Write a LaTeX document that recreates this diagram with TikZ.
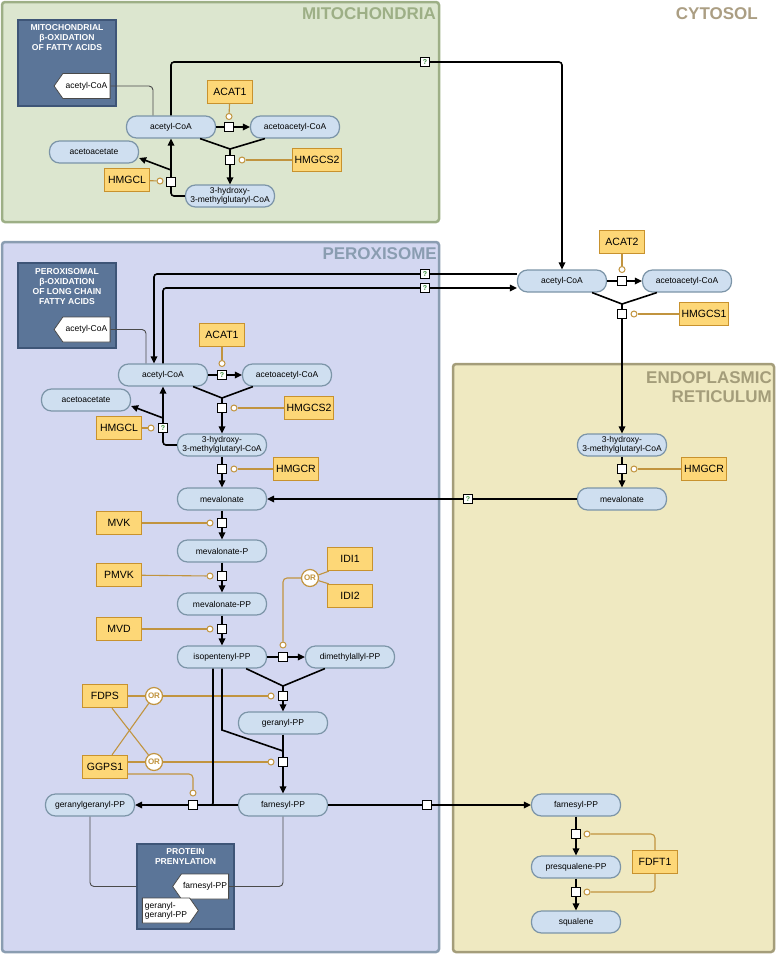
\documentclass[tikz,border=0pt]{standalone}
\usepackage{fontspec}
\setmainfont{Liberation Sans}
\usepackage{tikz}
\usetikzlibrary{arrows.meta,positioning,calc,shapes.misc,shapes.symbols}

\definecolor{metfill}{HTML}{CFDFF0}
\definecolor{metline}{HTML}{7C95A8}
\definecolor{genefill}{HTML}{FDD777}
\definecolor{geneline}{HTML}{C8922E}
\definecolor{modline}{HTML}{C1943F}
\definecolor{mitofill}{HTML}{DCE6CF}
\definecolor{mitoline}{HTML}{9DAF86}
\definecolor{perofill}{HTML}{D3D7F1}
\definecolor{peroline}{HTML}{8A9DB1}
\definecolor{erfill}{HTML}{EFE9C1}
\definecolor{erline}{HTML}{A49D7A}
\definecolor{cytotext}{HTML}{AB9E83}
\definecolor{srcfill}{HTML}{5B7598}
\definecolor{srcline}{HTML}{3E5577}
\definecolor{qtext}{HTML}{3E8E3E}
\definecolor{linkgray}{HTML}{4A4A4A}

\newcommand{\metfont}{\fontsize{8.5}{9}\selectfont}
\newcommand{\genefont}{\fontsize{10.5}{12}\selectfont}
\newcommand{\cmpfont}{\fontsize{17}{19}\selectfont\bfseries}
\newcommand{\srcfont}{\fontsize{8.6}{10}\selectfont\bfseries}

\tikzset{
  met/.style={draw=metline, fill=metfill, line width=1.2pt, rounded corners=10pt,
    minimum width=89pt, minimum height=22pt, inner sep=1pt, font=\metfont, align=center},
  gene/.style={draw=geneline, fill=genefill, line width=1.3pt, minimum width=45pt,
    minimum height=23pt, inner xsep=2pt, font=\genefont},
  rxn/.style={draw=black, fill=white, line width=1pt, minimum size=9pt, inner sep=0pt},
  unk/.style={rxn, font=\fontsize{7}{7}\selectfont\bfseries, text=qtext},
  cat/.style={circle, draw=modline, fill=white, line width=1pt, minimum size=6pt, inner sep=0pt},
  orgate/.style={circle, draw=modline, fill=white, line width=1.2pt, minimum size=17pt,
    inner sep=0pt, font=\fontsize{8}{8}\selectfont\bfseries, text=modline},
  srcbox/.style={draw=srcline, fill=srcfill, line width=1.2pt},
  srctitle/.style={font=\srcfont, text=white, align=center},
  tagl/.style={signal, signal to=west, signal pointer angle=110, draw=linkgray, fill=white,
    line width=0.8pt, minimum width=56pt, minimum height=25pt, inner sep=1pt, font=\metfont},
  tagr/.style={signal, signal to=east, signal pointer angle=110, draw=linkgray, fill=white,
    line width=0.8pt, minimum width=56pt, minimum height=25pt, inner sep=1pt, font=\metfont, align=left},
  cmp/.style={font=\cmpfont, inner sep=0pt},
  rx/.style={line width=1.6pt, black},
  mod/.style={line width=1.1pt, modline},
  link/.style={line width=0.9pt, linkgray, rounded corners=4pt},
}

\begin{document}
\begin{tikzpicture}[x=1pt,y=-1pt,>={Triangle[length=7pt,width=6.5pt]}]
\useasboundingbox (0,0) rectangle (777,956);

% Compartments
\draw[mitoline, fill=mitofill, line width=2.5pt, rounded corners=3pt] (2,2) rectangle (439,222);
\draw[peroline, fill=perofill, line width=2.5pt, rounded corners=3pt] (2,242) rectangle (439,952);
\draw[erline, fill=erfill, line width=2.5pt, rounded corners=3pt] (453,364) rectangle (774,952);
\node[cmp, text=mitoline, anchor=east] (tmito) at (436,14) {MITOCHONDRIA};
\node[cmp, text=cytotext, anchor=east] (tcyto) at (758,14) {CYTOSOL};
\node[cmp, text=peroline, anchor=east] (tpero) at (437,254) {PEROXISOME};
\node[cmp, text=erline, anchor=east, align=right] (ter) at (772,387) {ENDOPLASMIC\\RETICULUM};

% ---------------- Mitochondria ----------------
\node[srcbox, minimum width=98pt, minimum height=86pt] (msrc) at (67,63) {};
\node[srctitle] (msrct) at (67,38) {MITOCHONDRIAL\\β-OXIDATION\\OF FATTY ACIDS};
\node[tagl] (mtag) at (86.5,86) {acetyl-CoA};

\node[met] (macoa) at (171,127) {acetyl-CoA};
\node[met] (maacoa) at (295,127) {acetoacetyl-CoA};
\node[met] (macac) at (94,152) {acetoacetate};
\node[met] (mhmg) at (230,196) {3-hydroxy-\\3-methylglutaryl-CoA};
\node[gene] (macat1) at (230,92) {ACAT1};
\node[gene] (mhmgcs2) at (317,160) {HMGCS2};
\node[gene] (mhmgcl) at (127,180) {HMGCL};
\node[rxn] (mr1) at (229,127) {};
\node[rxn] (mr2) at (230,160) {};
\node[rxn] (mr3) at (171,182) {};
\node[cat] (mc1) at (229,116.5) {};
\node[cat] (mc2) at (242,160) {};
\node[cat] (mc3) at (160,181) {};
\node[unk] (mq1) at (425,62) {?};
\coordinate (mj1) at (230,149);
\coordinate (mb1) at (171,170);

\draw[link] (mtag.east) -| ([xshift=-18pt]macoa.north);
\draw[rx] (macoa.east) -- (mr1);
\draw[rx,->] (mr1) -- (maacoa.west);
\draw[rx] ([xshift=-16pt]macoa.south east) -- (mj1) -- ([xshift=15pt]maacoa.south west);
\draw[rx] (mj1) -- (mr2);
\draw[rx,->] (mr2) -- (mhmg.north);
\draw[rx,rounded corners=3pt] (mhmg.west) -| (mr3);
\draw[rx,->] (mr3) -- (macoa.south);
\draw[rx,->] (mb1) -- ([yshift=-6pt]macac.east);
\draw[rx,rounded corners=3pt] (macoa.north) |- (mq1.west);
\draw[mod] (macat1) -- (mc1);
\draw[mod] (mhmgcs2) -- (mc2);
\draw[mod] (mhmgcl) -- (mc3);

% ---------------- Cytosol ----------------
\node[met] (cacoa) at (562,281) {acetyl-CoA};
\node[met] (caacoa) at (687,281) {acetoacetyl-CoA};
\node[gene] (cacat2) at (622,242) {ACAT2};
\node[gene] (chmgcs1) at (704,314) {HMGCS1};
\node[rxn] (cr1) at (622,281) {};
\node[rxn] (cr2) at (622,314) {};
\node[cat] (cc1) at (622,269.5) {};
\node[cat] (cc2) at (634,314) {};
\coordinate (cj1) at (622,304);

\draw[rx,->,rounded corners=3pt] (mq1.east) -| (cacoa.north);
\draw[rx] (cacoa.east) -- (cr1);
\draw[rx,->] (cr1) -- (caacoa.west);
\draw[rx] ([xshift=-15pt]cacoa.south east) -- (cj1) -- ([xshift=15pt]caacoa.south west);
\draw[rx] (cj1) -- (cr2);
\draw[mod] (cacat2) -- (cc1);
\draw[mod] (chmgcs1) -- (cc2);

% ---------------- Endoplasmic reticulum ----------------
\node[met] (ehmg) at (622,445) {3-hydroxy-\\3-methylglutaryl-CoA};
\node[gene] (ehmgcr) at (704,469) {HMGCR};
\node[rxn] (er1) at (622,469) {};
\node[cat] (ec1) at (634,469) {};
\node[met] (emev) at (622,499) {mevalonate};
\node[unk] (eq1) at (468,499) {?};
\node[met] (efpp) at (576,805) {farnesyl-PP};
\node[met] (epsq) at (576,867) {presqualene-PP};
\node[met] (esq) at (576,922) {squalene};
\node[gene] (efdft1) at (655,862) {FDFT1};
\node[rxn] (er2) at (576,834) {};
\node[rxn] (er3) at (576,892) {};
\node[cat] (ec2) at (587,834) {};
\node[cat] (ec3) at (587,892) {};

\draw[rx,->] (cr2) -- (ehmg.north);
\draw[rx] (ehmg) -- (er1);
\draw[rx,->] (er1) -- (emev);
\draw[mod] (ehmgcr) -- (ec1);
\draw[rx] (emev.west) -- (eq1);
\draw[rx] (efpp) -- (er2);
\draw[rx,->] (er2) -- (epsq);
\draw[rx] (epsq) -- (er3);
\draw[rx,->] (er3) -- (esq);
\draw[mod,rounded corners=4pt] (efdft1.north) |- (ec2);
\draw[mod,rounded corners=4pt] (efdft1.south) |- (ec3);

% ---------------- Peroxisome ----------------
\node[srcbox, minimum width=98pt, minimum height=85pt] (psrc) at (67,305.5) {};
\node[srctitle] (psrct) at (67,287) {PEROXISOMAL\\β-OXIDATION\\OF LONG CHAIN\\FATTY ACIDS};
\node[tagl] (ptag) at (86.5,329.5) {acetyl-CoA};

\node[met] (pacoa) at (163,375) {acetyl-CoA};
\node[met] (paacoa) at (287,375) {acetoacetyl-CoA};
\node[met] (pacac) at (86,400) {acetoacetate};
\node[met] (phmg) at (222,445) {3-hydroxy-\\3-methylglutaryl-CoA};
\node[gene] (pacat1) at (222,335) {ACAT1};
\node[gene] (phmgcs2) at (309,408) {HMGCS2};
\node[gene] (phmgcl) at (119,428) {HMGCL};
\node[gene] (phmgcr) at (296,469) {HMGCR};
\node[unk] (pq3) at (222,375) {?};
\node[rxn] (pr2) at (222,408) {};
\node[unk] (pq4) at (163,428) {?};
\node[rxn] (pr4) at (222,469) {};
\node[cat] (pc1) at (222,363.5) {};
\node[cat] (pc2) at (234,408) {};
\node[cat] (pc3) at (151,428) {};
\node[cat] (pc4) at (234,469) {};
\node[unk] (pq1) at (425,274) {?};
\node[unk] (pq2) at (425,288) {?};
\coordinate (pj1) at (222,398);
\coordinate (pb1) at (163,418);

\draw[link] (ptag.east) -| ([xshift=-17pt]pacoa.north);
\draw[rx] ([yshift=7pt]cacoa.west) -- (pq1);
\draw[rx,->,rounded corners=3pt] (pq1) -| ([xshift=-9pt]pacoa.north);
\draw[rx,rounded corners=3pt] (pacoa.north) |- (pq2);
\draw[rx,->] (pq2) -- ([yshift=-7pt]cacoa.west);
\draw[rx] (pacoa.east) -- (pq3);
\draw[rx,->] (pq3) -- (paacoa.west);
\draw[rx] ([xshift=-15pt]pacoa.south east) -- (pj1) -- ([xshift=11pt]paacoa.south west);
\draw[rx] (pj1) -- (pr2);
\draw[rx,->] (pr2) -- (phmg.north);
\draw[rx,rounded corners=3pt] (phmg.west) -| (pq4);
\draw[rx,->] (pq4) -- (pacoa.south);
\draw[rx,->] (pb1) -- ([yshift=-6pt]pacac.east);
\draw[rx] (phmg) -- (pr4);
\draw[mod] (pacat1) -- (pc1);
\draw[mod] (phmgcs2) -- (pc2);
\draw[mod] (phmgcl) -- (pc3);
\draw[mod] (phmgcr) -- (pc4);

% mevalonate pathway
\node[met] (pmev) at (222,499) {mevalonate};
\node[met] (pmevp) at (222,551) {mevalonate-P};
\node[met] (pmevpp) at (222,604) {mevalonate-PP};
\node[met] (pipp) at (222,657) {isopentenyl-PP};
\node[met] (pdmapp) at (350,657) {dimethylallyl-PP};
\node[met] (pgpp) at (283,723) {geranyl-PP};
\node[met] (pfpp) at (283,805) {farnesyl-PP};
\node[met] (pggpp) at (90,805) {geranylgeranyl-PP};
\node[gene] (pmvk) at (119,523) {MVK};
\node[gene] (ppmvk) at (119,575) {PMVK};
\node[gene] (pmvd) at (119,629) {MVD};
\node[gene] (pidi1) at (350,559) {IDI1};
\node[gene] (pidi2) at (350,596) {IDI2};
\node[gene] (pfdps) at (105,696) {FDPS};
\node[gene] (pggps1) at (105,767) {GGPS1};
\node[orgate] (por1) at (310,578) {OR};
\node[orgate] (por2) at (154,696) {OR};
\node[orgate] (por3) at (154,762) {OR};
\foreach \n/\y in {5/523,6/576,7/629}{
  \node[rxn] (pr\n) at (222,\y) {};
  \node[cat] (pc\n) at (210,\y) {};
}
\node[rxn] (pr8) at (283,657) {};
\node[cat] (pc8) at (283,645) {};
\node[rxn] (pr9) at (283,696) {};
\node[cat] (pc9) at (271,696) {};
\node[rxn] (pr10) at (283,762) {};
\node[cat] (pc10) at (271,762) {};
\node[rxn] (pr11) at (193,805) {};
\node[cat] (pc11) at (193,793) {};
\node[rxn] (pr12) at (427,805) {};
\coordinate (pj2) at (283,686);
\coordinate (pk1) at (222,730);
\coordinate (pj3) at (283,751);

\draw[rx,->] (eq1) -- (pmev.east);
\draw[rx,->] (pr4) -- (pmev);
\draw[rx] (pmev) -- (pr5);
\draw[rx,->] (pr5) -- (pmevp);
\draw[rx] (pmevp) -- (pr6);
\draw[rx,->] (pr6) -- (pmevpp);
\draw[rx] (pmevpp) -- (pr7);
\draw[rx,->] (pr7) -- (pipp);
\draw[mod] (pmvk) -- (pc5);
\draw[mod] (ppmvk) -- (pc6);
\draw[mod] (pmvd) -- (pc7);
% isomerase
\draw[rx] (pipp.east) -- (pr8);
\draw[rx,->] (pr8) -- (pdmapp.west);
\draw[mod,rounded corners=4pt] (por1.west) -| (pc8.north);
\draw[mod] (por1) -- ([xshift=2pt]pidi1.south west);
\draw[mod] (por1) -- ([xshift=2pt]pidi2.north west);
% geranyl-PP
\draw[rx] ([xshift=-21pt]pipp.south east) -- (pj2) -- ([xshift=20pt]pdmapp.south west);
\draw[rx] (pj2) -- (pr9);
\draw[rx,->] (pr9) -- (pgpp.north);
\draw[mod] (pfdps) -- (por2);
\draw[mod] (por2) -- (pc9);
\draw[mod] ([xshift=7pt]pfdps.south) -- (por3);
\draw[mod] ([xshift=7pt]pggps1.north) -- (por2);
\draw[mod] ([yshift=5pt]pggps1.east) -- (por3);
\draw[mod] (por3) -- (pc10);
% farnesyl-PP
\draw[rx] (pipp.south) -- (pk1) -- (pj3);
\draw[rx] (pgpp.south) -- (pj3) -- (pr10);
\draw[rx,->] (pr10) -- (pfpp.north);
% geranylgeranyl-PP
\draw[rx,rounded corners=2pt] ([xshift=-9pt]pipp.south) |- (pr11);
\draw[rx] (pfpp.west) -- (pr11);
\draw[rx,->] (pr11) -- (pggpp.east);
\draw[mod,rounded corners=4pt] ([yshift=-7pt]pggps1.east) -| (pc11);
% export to ER
\draw[rx] (pfpp.east) -- (pr12);
\draw[rx,->] (pr12) -- (efpp.west);

% protein prenylation
\node[srcbox, minimum width=97pt, minimum height=85pt] (pprn) at (185.5,886.5) {};
\node[srctitle] (pprnt) at (185.5,857) {PROTEIN\\PRENYLATION};
\node[tagl] (ptagf) at (205,886.5) {farnesyl-PP};
\node[tagr] (ptagg) at (166,910.5) {geranyl-\\geranyl-PP};
\draw[link] (pggpp.south) |- (pprn.west);
\draw[link] (pfpp.south) |- (ptagf.east);

\end{tikzpicture}
\end{document}
